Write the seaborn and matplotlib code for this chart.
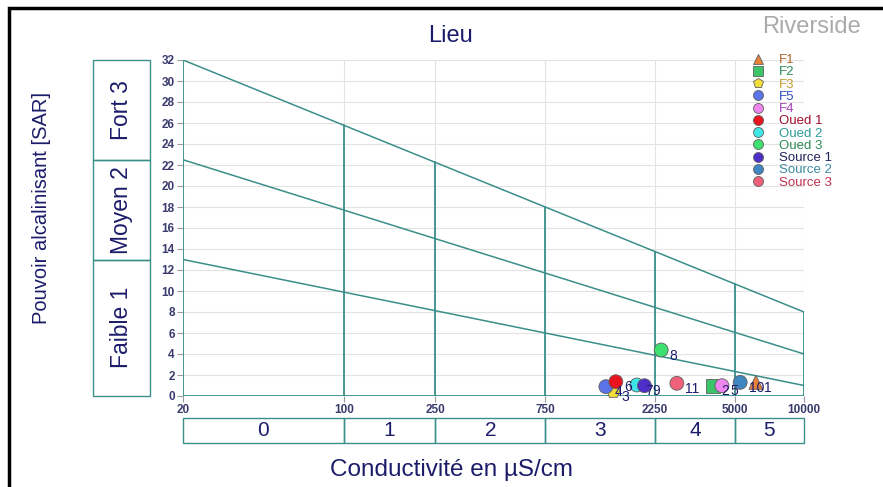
import matplotlib
matplotlib.use("Agg")
import matplotlib.pyplot as plt
import seaborn as sns
import pandas as pd
import numpy as np
from matplotlib.patches import Rectangle

# ---------------- data ----------------
lieux = ["F1", "F2", "F3", "F5", "F4", "Oued 1", "Oued 2", "Oued 3",
         "Source 1", "Source 2", "Source 3"]
numeros = ["1", "2", "3", "4", "5", "6", "7", "8", "9", "10", "11"]
conductivite = [6180, 4018, 1485, 1377, 4398, 1521, 1877, 2395, 2026, 5280, 2802]
sar = [1.30, 0.98, 0.41, 0.89, 0.98, 1.36, 1.05, 4.38, 0.98, 1.30, 1.21]

point_colors = ["#e8823a", "#3cc46a", "#f2de3a", "#5b74e8", "#ee86ee", "#e8141e",
                "#3fe6e6", "#3ee070", "#4d2fc8", "#3f86c0", "#f0607a"]
text_colors = ["#b0652a", "#2e8b57", "#c0a030", "#3050c0", "#a040b0", "#a01030",
               "#2a9a9a", "#2e8b57", "#22225e", "#3a8aa0", "#c03050"]
markers = ["^", "s", "p", "o", "o", "o", "o", "o", "o", "o", "o"]

x_ticks = [20, 100, 250, 750, 2250, 5000, 10000]
y_ticks = list(range(0, 33, 2))
classes_c = ["0", "1", "2", "3", "4", "5"]
classes_s = ["Faible 1", "Moyen 2", "Fort 3"]
sar_limits_left = [0, 13, 22.5, 32]
sar_limits_right = [0, 1, 4, 8]

df = pd.DataFrame({"Lieu": lieux, "Conductivite": conductivite, "SAR": sar, "num": numeros})

TEAL = "#3a8f8a"
NAVY = "#1c1c6a"

sns.set_style("white")
plt.rcParams["font.family"] = ["Liberation Sans", "DejaVu Sans"]

W, H = 883, 487
fig = plt.figure(figsize=(W / 100, H / 100), dpi=100)

def fx(px):
    return px / W

def fy(py):
    return 1 - py / H

# main axes
ax = fig.add_axes([fx(183), fy(396), fx(804) - fx(183), fy(60) - fy(396)])
ax.set_xscale("log")
ax.set_xlim(20, 10000)
ax.set_ylim(0, 32)

# grid
for yv in y_ticks:
    ax.axhline(yv, color="#e3e3e3", lw=0.8, zorder=0)
for xv in x_ticks:
    ax.axvline(xv, color="#e3e3e3", lw=0.8, zorder=0)

# boundary lines (straight in log-x)
lx0, lx1 = np.log10(20), np.log10(10000)
def yline(x, y0, y1):
    return y0 + (y1 - y0) * (np.log10(x) - lx0) / (lx1 - lx0)

for y0, y1 in zip(sar_limits_left[1:], sar_limits_right[1:]):
    ax.plot([20, 10000], [y0, y1], color=TEAL, lw=1.1, zorder=1)
for xv in x_ticks:
    ax.plot([xv, xv], [0, yline(xv, 32, 8)], color=TEAL, lw=1.3, zorder=1)
ax.plot([20, 10000], [0, 0], color=TEAL, lw=1.3, zorder=1)

for s in ax.spines.values():
    s.set_visible(False)

# points
pal = dict(zip(lieux, point_colors))
mk = dict(zip(lieux, markers))
sns.scatterplot(data=df, x="Conductivite", y="SAR", hue="Lieu", style="Lieu",
                palette=pal, markers=mk, hue_order=lieux, style_order=lieux,
                s=100, edgecolor="#606060", linewidth=0.6, ax=ax, zorder=3,
                clip_on=False)

for _, r in df.iterrows():
    ax.annotate(r["num"], (r["Conductivite"], r["SAR"]), xytext=(6, -4),
                textcoords="offset points", ha="left", va="center",
                fontsize=10, color=NAVY, zorder=4)

# ticks
ax.set_xticks(x_ticks)
ax.set_xticklabels([str(v) for v in x_ticks])
ax.minorticks_off()
ax.set_yticks(y_ticks)
ax.tick_params(axis="both", which="major", length=4, width=0.8, color="#9a9a9a",
               labelsize=8.5, labelcolor="#3a3a6e", pad=2, left=True, bottom=True)
for lab in ax.get_xticklabels() + ax.get_yticklabels():
    lab.set_fontweight("bold")
ax.set_xlabel("")
ax.set_ylabel("")

# legend
handles, labels = ax.get_legend_handles_labels()
leg = ax.legend(handles, labels, loc="upper left",
                bbox_to_anchor=(fx(751), fy(54)), bbox_transform=fig.transFigure,
                frameon=False, fontsize=9.5, labelspacing=0.0, handlelength=1.0,
                handletextpad=1.1, borderpad=0, borderaxespad=0, markerscale=0.72)
for t, c in zip(leg.get_texts(), text_colors):
    t.set_color(c)

# left class boxes (SAR)
axl = fig.add_axes([fx(93), fy(396), fx(150) - fx(93), fy(60) - fy(396)])
axl.set_xlim(0, 1)
axl.set_ylim(0, 32)
axl.axis("off")
for i, name in enumerate(classes_s):
    y0, y1 = sar_limits_left[i], sar_limits_left[i + 1]
    axl.add_patch(Rectangle((0, y0), 1, y1 - y0, fill=False, edgecolor=TEAL,
                            lw=1.0, clip_on=False))
    axl.text(0.5, (y0 + y1) / 2, name, rotation=90, ha="center", va="center",
             fontsize=16.5, color=NAVY)

# bottom class boxes (conductivity)
axb = fig.add_axes([fx(183), fy(443), fx(804) - fx(183), fy(418) - fy(443)])
axb.set_xscale("log")
axb.set_xlim(20, 10000)
axb.set_ylim(0, 1)
axb.axis("off")
for i, name in enumerate(classes_c):
    x0, x1 = x_ticks[i], x_ticks[i + 1]
    axb.add_patch(Rectangle((x0, 0), x1 - x0, 1, fill=False, edgecolor=TEAL,
                            lw=1.0, clip_on=False))
    axb.text(np.sqrt(x0 * x1), 0.5, name, ha="center", va="center",
             fontsize=15, color=NAVY)

# texts
fig.text(fx(451), fy(36), "Lieu", ha="center", va="center", fontsize=17, color=NAVY)
fig.text(fx(811), fy(27), "Riverside", ha="center", va="center", fontsize=17,
         color="#ababab")
fig.text(fx(42), fy(208), "Pouvoir alcalinisant [SAR]", rotation=90, ha="center",
         va="center", fontsize=14.5, color=NAVY)
fig.text(fx(451), fy(470), "Conductivité en µS/cm", ha="center", va="center",
         fontsize=17.5, color=NAVY)

# outer black frame (left and top visible)
fig.add_artist(Rectangle((fx(9), -0.2), 1.5, fy(8) + 0.2, fill=False,
                         edgecolor="black", lw=2.5, transform=fig.transFigure,
                         clip_on=False))

fig.savefig("out.png", dpi=100, facecolor="white")
